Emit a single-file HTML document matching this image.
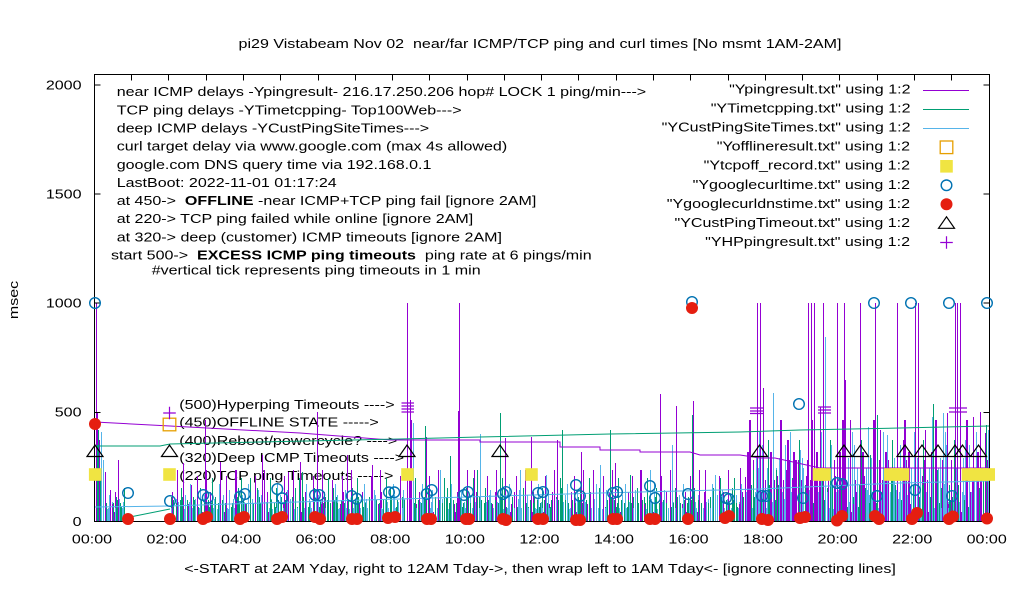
<!DOCTYPE html>
<html><head><meta charset="utf-8"><style>
html,body{margin:0;padding:0;background:#fff;}
svg{display:block;}
.t{font-family:"Liberation Sans",Arial,sans-serif;font-size:13px;fill:#000;white-space:pre;}
.b{font-weight:bold;}
</style></head><body>
<svg width="1020" height="600" viewBox="0 0 1020 600" xmlns="http://www.w3.org/2000/svg">
<defs>
<pattern id="pA" patternUnits="userSpaceOnUse" x="0" y="0" width="11" height="600">
<path d="M0.5 507V521" stroke="#009e73"/><path d="M2.5 502V521" stroke="#56b4e9"/><path d="M4.5 512V521" stroke="#9400d3"/><path d="M6.5 497V521" stroke="#009e73"/><path d="M8.5 509V521" stroke="#56b4e9"/>
</pattern>
<pattern id="pB" patternUnits="userSpaceOnUse" x="0" y="0" width="19" height="600">
<path d="M1.5 492V521" stroke="#9400d3"/><path d="M5.5 499V521" stroke="#56b4e9"/><path d="M10.5 488V521" stroke="#009e73"/><path d="M14.5 495V521" stroke="#56b4e9"/><path d="M17.5 504V521" stroke="#9400d3"/>
</pattern>
<pattern id="pE" patternUnits="userSpaceOnUse" x="0" y="0" width="7" height="600">
<path d="M1.5 503V521" stroke="#009e73"/><path d="M3.5 508V521" stroke="#56b4e9"/><path d="M5.5 500V521" stroke="#009e73"/>
</pattern>
<pattern id="pF" patternUnits="userSpaceOnUse" x="0" y="0" width="29" height="600">
<path d="M3.5 470V521" stroke="#9400d3"/><path d="M9.5 478V521" stroke="#009e73"/><path d="M16.5 484V521" stroke="#56b4e9"/><path d="M23.5 476V521" stroke="#9400d3"/><path d="M26.5 490V521" stroke="#56b4e9"/>
</pattern>
<pattern id="pC" patternUnits="userSpaceOnUse" x="0" y="0" width="9" height="600">
<path d="M0.5 480V521" stroke="#9400d3"/><path d="M2.5 468V521" stroke="#56b4e9"/><path d="M4.5 485V521" stroke="#009e73"/><path d="M6.5 460V521" stroke="#9400d3"/><path d="M8.5 492V521" stroke="#56b4e9"/>
</pattern>
<pattern id="pD" patternUnits="userSpaceOnUse" x="0" y="0" width="23" height="600">
<path d="M3.5 445V521" stroke="#56b4e9"/><path d="M11.5 452V521" stroke="#9400d3"/><path d="M12.5 452V521" stroke="#9400d3"/><path d="M17.5 470V521" stroke="#009e73"/><path d="M20.5 458V521" stroke="#56b4e9"/>
</pattern>
<pattern id="pG" patternUnits="userSpaceOnUse" x="0" y="0" width="31" height="600">
<path d="M5.5 420V521" stroke="#9400d3"/><path d="M6.5 420V521" stroke="#9400d3"/><path d="M15.5 432V521" stroke="#56b4e9"/><path d="M24.5 440V521" stroke="#009e73"/>
</pattern>
</defs>
<rect width="1020" height="600" fill="#fff"/>

<text class="t" text-anchor="middle" transform="matrix(1.235 0 0 1 540 48)">pi29 Vistabeam Nov 02  near/far ICMP/TCP ping and curl times [No msmt 1AM-2AM]</text>
<text class="t" text-anchor="middle" transform="translate(18,300) rotate(-90) scale(1.235,1)">msec</text>
<text class="t" text-anchor="middle" transform="matrix(1.235 0 0 1 540 573)">&lt;-START at 2AM Yday, right to 12AM Tday-&gt;, then wrap left to 1AM Tday&lt;- [ignore connecting lines]</text>

<text class="t" text-anchor="end" transform="matrix(1.235 0 0 1 81.5 89.3)">2000</text>
<text class="t" text-anchor="end" transform="matrix(1.235 0 0 1 81.5 198.3)">1500</text>
<text class="t" text-anchor="end" transform="matrix(1.235 0 0 1 81.5 307.5)">1000</text>
<text class="t" text-anchor="end" transform="matrix(1.235 0 0 1 81.5 416.7)">500</text>
<text class="t" text-anchor="end" transform="matrix(1.235 0 0 1 81.5 525.8)">0</text>

<text class="t" text-anchor="middle" transform="matrix(1.235 0 0 1 92 543.3)">00:00</text>
<text class="t" text-anchor="middle" transform="matrix(1.235 0 0 1 166.6 543.3)">02:00</text>
<text class="t" text-anchor="middle" transform="matrix(1.235 0 0 1 241.1 543.3)">04:00</text>
<text class="t" text-anchor="middle" transform="matrix(1.235 0 0 1 315.7 543.3)">06:00</text>
<text class="t" text-anchor="middle" transform="matrix(1.235 0 0 1 390.2 543.3)">08:00</text>
<text class="t" text-anchor="middle" transform="matrix(1.235 0 0 1 464.8 543.3)">10:00</text>
<text class="t" text-anchor="middle" transform="matrix(1.235 0 0 1 539.4 543.3)">12:00</text>
<text class="t" text-anchor="middle" transform="matrix(1.235 0 0 1 613.9 543.3)">14:00</text>
<text class="t" text-anchor="middle" transform="matrix(1.235 0 0 1 688.5 543.3)">16:00</text>
<text class="t" text-anchor="middle" transform="matrix(1.235 0 0 1 763 543.3)">18:00</text>
<text class="t" text-anchor="middle" transform="matrix(1.235 0 0 1 837.6 543.3)">20:00</text>
<text class="t" text-anchor="middle" transform="matrix(1.235 0 0 1 912.2 543.3)">22:00</text>
<text class="t" text-anchor="middle" transform="matrix(1.235 0 0 1 986.7 543.3)">00:00</text>

<text class="t" transform="matrix(1.235 0 0 1 116.7 96.2)">near ICMP delays -Ypingresult- 216.17.250.206 hop# LOCK 1 ping/min---&gt;</text>
<text class="t" transform="matrix(1.235 0 0 1 116.7 114.3)">TCP ping delays -YTimetcpping- Top100Web---&gt;</text>
<text class="t" transform="matrix(1.235 0 0 1 116.7 132.5)">deep ICMP delays -YCustPingSiteTimes---&gt;</text>
<text class="t" transform="matrix(1.235 0 0 1 116.7 150.6)">curl target delay via www.google.com (max 4s allowed)</text>
<text class="t" transform="matrix(1.235 0 0 1 116.7 168.8)">google.com DNS query time via 192.168.0.1</text>
<text class="t" transform="matrix(1.235 0 0 1 116.7 186.9)">LastBoot: 2022-11-01 01:17:24</text>
<text class="t" transform="matrix(1.235 0 0 1 116.7 205)">at 450-&gt;  <tspan class="b">OFFLINE</tspan> -near ICMP+TCP ping fail [ignore 2AM]</text>
<text class="t" transform="matrix(1.235 0 0 1 116.7 223.2)">at 220-&gt; TCP ping failed while online [ignore 2AM]</text>
<text class="t" transform="matrix(1.235 0 0 1 116.7 241.3)">at 320-&gt; deep (customer) ICMP timeouts [ignore 2AM]</text>
<text class="t" transform="matrix(1.235 0 0 1 111 259.5)">start 500-&gt;  <tspan class="b">EXCESS ICMP ping timeouts</tspan>  ping rate at 6 pings/min</text>
<text class="t" transform="matrix(1.235 0 0 1 151.7 274.5)">#vertical tick represents ping timeouts in 1 min</text>

<text class="t" text-anchor="end" transform="matrix(1.235 0 0 1 910.5 93.5)">"Ypingresult.txt" using 1:2</text>
<text class="t" text-anchor="end" transform="matrix(1.235 0 0 1 910.5 112.6)">"YTimetcpping.txt" using 1:2</text>
<text class="t" text-anchor="end" transform="matrix(1.235 0 0 1 910.5 131.6)">"YCustPingSiteTimes.txt" using 1:2</text>
<text class="t" text-anchor="end" transform="matrix(1.235 0 0 1 910 150.7)">"Yofflineresult.txt" using 1:2</text>
<text class="t" text-anchor="end" transform="matrix(1.235 0 0 1 910 169.7)">"Ytcpoff_record.txt" using 1:2</text>
<text class="t" text-anchor="end" transform="matrix(1.235 0 0 1 910 188.8)">"Ygooglecurltime.txt" using 1:2</text>
<text class="t" text-anchor="end" transform="matrix(1.235 0 0 1 910 207.8)">"Ygooglecurldnstime.txt" using 1:2</text>
<text class="t" text-anchor="end" transform="matrix(1.235 0 0 1 910 226.9)">"YCustPingTimeout.txt" using 1:2</text>
<text class="t" text-anchor="end" transform="matrix(1.235 0 0 1 910 245.9)">"YHPpingresult.txt" using 1:2</text>
<path d="M923 90.5H969" stroke="#9400d3"/>
<path d="M923 109.5H969" stroke="#009e73"/>
<path d="M923 128.5H969" stroke="#56b4e9"/>
<rect x="940.2" y="141" width="12.6" height="12.6" fill="none" stroke="#e69f00" stroke-width="1.3"/>
<rect x="940.2" y="160" width="12.6" height="12.6" fill="#f0e442"/>
<circle cx="946.5" cy="185.3" r="5.3" fill="none" stroke="#0072b2" stroke-width="1.4"/>
<circle cx="946.5" cy="204.3" r="6" fill="#e51e10"/>
<path d="M938.5 228.3L946.5 216.8L954.5 228.3Z" fill="none" stroke="#000" stroke-width="1.2"/>
<path d="M940.2 242.5H952.8M946.5 236.2V248.8" stroke="#9400d3" stroke-width="1.2"/>

<text class="t" transform="matrix(1.235 0 0 1 179.3 409)">(500)Hyperping Timeouts ----&gt;</text>
<text class="t" transform="matrix(1.235 0 0 1 179.3 426.6)">(450)OFFLINE STATE -----&gt;</text>
<text class="t" transform="matrix(1.235 0 0 1 179.3 444.8)">(400)Reboot/powercycle? ----&gt;</text>
<text class="t" transform="matrix(1.235 0 0 1 179.3 462)">(320)Deep ICMP Timeouts ----&gt;</text>
<text class="t" transform="matrix(1.235 0 0 1 179.3 480)">(220)TCP ping Timeouts -----&gt;</text>

<!-- noise band -->
<rect x="95" y="470" width="30" height="51.5" fill="url(#pA)"/>
<rect x="170" y="470" width="819" height="51.5" fill="url(#pA)"/>
<rect x="95" y="470" width="30" height="51.5" fill="url(#pB)"/>
<rect x="170" y="470" width="819" height="51.5" fill="url(#pB)"/>
<rect x="95" y="460" width="30" height="61.5" fill="url(#pE)"/>
<rect x="170" y="460" width="819" height="61.5" fill="url(#pE)"/>
<rect x="172" y="460" width="817" height="61.5" fill="url(#pF)"/>
<rect x="745" y="430" width="244" height="91.5" fill="url(#pC)"/>
<rect x="745" y="430" width="244" height="91.5" fill="url(#pD)"/>
<rect x="745" y="400" width="244" height="121.5" fill="url(#pG)"/>

<path stroke="#9400d3" fill="none" d="M96.5 303V521M97.5 412V521M99.5 440V521M105.5 472V521M110.5 490V521M118.5 460V521M183.5 463V521M191.5 485V521M205.5 420V521M220.5 462V521M236.5 470V521M262.5 455V521M288.5 472V521M300.5 462V521M317.5 412V521M332.5 480V521M347.5 455V521M372.5 465V521M407.5 303V521M410.5 400V521M411.5 420V521M426.5 437V521M458.5 411V521M459.5 303V521M474.5 470V521M505.5 438V521M531.5 437V521M557.5 440V521M581.5 452V521M593.5 470V521M615.5 463V521M640.5 470V521M660.5 394V521M676.5 406V521M693.5 401V521M705.5 470V521M740.5 468V521M745.5 477V521M757.5 303V521M760.5 303V521M763.5 388V521M787.5 440V521M788.5 440V521M795.5 460V521M796.5 460V521M808.5 303V521M811.5 303V521M814.5 303V521M820.5 407V521M823.5 303V521M837.5 303V521M844.5 303V521M845.5 380V521M850.5 420V521M860.5 303V521M875.5 303V521M880.5 430V521M897.5 303V521M903.5 440V521M915.5 303V521M918.5 303V521M925.5 430V521M947.5 413V521M955.5 303V521M957.5 303V521M960.5 303V521M973.5 417V521M980.5 412V521M985.5 433V521"/>
<path stroke="#009e73" fill="none" d="M97.5 445V521M98.5 430V521M100.5 470V521M250.5 478V521M302.5 472V521M425.5 426V521M450.5 456V521M477.5 470V521M500.5 413V521M562.5 430V521M610.5 430V521M630.5 475V521M692.5 415V521M720.5 478V521M830.5 450V521M870.5 455V521M877.5 415V521M933.5 404V521M986.5 425V521"/>
<path stroke="#56b4e9" fill="none" d="M101.5 432V521M103.5 460V521M413.5 423V521M440.5 470V521M480.5 434V521M520.5 470V521M546.5 475V521M600.5 465V521M650.5 470V521M672.5 445V521M715.5 475V521M773.5 393V521M800.5 450V521M825.5 337V521M868.5 427V521M887.5 435V521M905.5 455V521M932.5 417V521M940.5 460V521M943.5 413V521M965.5 440V521M988.5 430V521"/>

<polyline fill="none" stroke="#9400d3" points="95,422 170,426 300,433 390,440 480,440 480,442 560,442 560,447 600,447 600,450 640,450 640,452 690,452 700,455 740,455 760,458 775,458 820,468 989,468"/>
<polyline fill="none" stroke="#009e73" points="95,446 160,446 170,444 400,439 480,437 610,434 740,432 800,430 900,428 989,426"/>
<polyline fill="none" stroke="#009e73" points="130,517 170,509"/>
<polyline fill="none" stroke="#56b4e9" points="95,507 170,506 230,504 400,499 600,493 720,490 760,489 900,483 989,481"/>

<rect x="94.5" y="74.5" width="895" height="447" fill="none" stroke="#000"/>
<path stroke="#000" fill="none" d="M94.5 85H100.5M94.5 194H100.5M94.5 303H100.5M94.5 412.5H100.5M989.5 85H983.5M989.5 194H983.5M989.5 303H983.5M989.5 412.5H983.5M131.5 74.5V80.5M168.5 74.5V80.5M206.5 74.5V80.5M243.5 74.5V80.5M280.5 74.5V80.5M318.5 74.5V80.5M355.5 74.5V80.5M392.5 74.5V80.5M429.5 74.5V80.5M467.5 74.5V80.5M504.5 74.5V80.5M541.5 74.5V80.5M578.5 74.5V80.5M616.5 74.5V80.5M653.5 74.5V80.5M690.5 74.5V80.5M728.5 74.5V80.5M765.5 74.5V80.5M802.5 74.5V80.5M839.5 74.5V80.5M877.5 74.5V80.5M914.5 74.5V80.5M951.5 74.5V80.5"/>

<rect x="163.2" y="418.2" width="12.6" height="12.6" fill="none" stroke="#e69f00" stroke-width="1.3"/>

<g fill="#f0e442">
<rect x="88.9" y="468.2" width="12.6" height="12.6"/>
<rect x="163.2" y="468.2" width="12.6" height="12.6"/>
<rect x="401.2" y="468.2" width="12.6" height="12.6"/>
<rect x="525.2" y="468.2" width="12.6" height="12.6"/>
<rect x="812.7" y="468.2" width="12.6" height="12.6"/>
<rect x="818.2" y="468.2" width="12.6" height="12.6"/>
<rect x="884" y="468.2" width="12.6" height="12.6"/>
<rect x="890.4" y="468.2" width="12.6" height="12.6"/>
<rect x="896.7" y="468.2" width="12.6" height="12.6"/>
<rect x="961.7" y="468.2" width="12.6" height="12.6"/>
<rect x="968.7" y="468.2" width="12.6" height="12.6"/>
<rect x="975.7" y="468.2" width="12.6" height="12.6"/>
<rect x="982.4" y="468.2" width="12.6" height="12.6"/>
</g>

<g fill="none" stroke="#0072b2" stroke-width="1.4">
<circle cx="95" cy="303" r="5.3"/><circle cx="128" cy="493" r="5.3"/><circle cx="170" cy="501" r="5.3"/>
<circle cx="203.3" cy="495" r="5.3"/><circle cx="207.7" cy="497.7" r="5.3"/><circle cx="240" cy="496.7" r="5.3"/><circle cx="245" cy="494" r="5.3"/>
<circle cx="277.3" cy="489" r="5.3"/><circle cx="282.3" cy="498.3" r="5.3"/><circle cx="315" cy="495" r="5.3"/><circle cx="319.3" cy="495" r="5.3"/>
<circle cx="351.7" cy="496" r="5.3"/><circle cx="356.7" cy="498.7" r="5.3"/><circle cx="389" cy="492.3" r="5.3"/><circle cx="394.3" cy="492.3" r="5.3"/>
<circle cx="426.7" cy="494" r="5.3"/><circle cx="431.7" cy="490" r="5.3"/><circle cx="464" cy="495" r="5.3"/><circle cx="468" cy="492" r="5.3"/>
<circle cx="503" cy="494" r="5.3"/><circle cx="506" cy="492" r="5.3"/><circle cx="538" cy="493" r="5.3"/><circle cx="543" cy="492" r="5.3"/>
<circle cx="576" cy="485" r="5.3"/><circle cx="580" cy="496" r="5.3"/><circle cx="613" cy="493" r="5.3"/><circle cx="617" cy="492" r="5.3"/>
<circle cx="650" cy="486" r="5.3"/><circle cx="655" cy="498" r="5.3"/><circle cx="688" cy="494" r="5.3"/><circle cx="692" cy="302" r="5.3"/>
<circle cx="726" cy="498" r="5.3"/><circle cx="729" cy="499" r="5.3"/><circle cx="762" cy="496" r="5.3"/><circle cx="766" cy="496" r="5.3"/>
<circle cx="799" cy="404" r="5.3"/><circle cx="803" cy="498" r="5.3"/><circle cx="837" cy="483" r="5.3"/><circle cx="842" cy="484" r="5.3"/>
<circle cx="874" cy="303" r="5.3"/><circle cx="877" cy="496" r="5.3"/><circle cx="911" cy="303" r="5.3"/><circle cx="915" cy="490" r="5.3"/>
<circle cx="949" cy="303" r="5.3"/><circle cx="952" cy="496" r="5.3"/><circle cx="987" cy="303" r="5.3"/>
</g>

<g fill="#e51e10">
<circle cx="95" cy="424" r="6"/><circle cx="128" cy="519" r="6"/><circle cx="170" cy="519" r="6"/>
<circle cx="203" cy="519" r="6"/><circle cx="207" cy="517" r="6"/><circle cx="240" cy="519" r="6"/><circle cx="244" cy="517" r="6"/>
<circle cx="277" cy="519" r="6"/><circle cx="282" cy="517" r="6"/><circle cx="315" cy="517" r="6"/><circle cx="320" cy="519" r="6"/>
<circle cx="352" cy="519" r="6"/><circle cx="357" cy="519" r="6"/><circle cx="388" cy="518" r="6"/><circle cx="395" cy="517" r="6"/>
<circle cx="427" cy="519" r="6"/><circle cx="431" cy="519" r="6"/><circle cx="466" cy="519" r="6"/><circle cx="469" cy="519" r="6"/>
<circle cx="503" cy="519" r="6"/><circle cx="506" cy="520" r="6"/><circle cx="538" cy="519" r="6"/><circle cx="543" cy="519" r="6"/>
<circle cx="576" cy="520" r="6"/><circle cx="580" cy="520" r="6"/><circle cx="613" cy="519" r="6"/><circle cx="617" cy="519" r="6"/>
<circle cx="650" cy="519" r="6"/><circle cx="655" cy="519" r="6"/><circle cx="688" cy="519" r="6"/><circle cx="692" cy="308" r="6"/>
<circle cx="725" cy="518" r="6"/><circle cx="729" cy="516" r="6"/><circle cx="762" cy="519" r="6"/><circle cx="768" cy="520" r="6"/>
<circle cx="800" cy="518" r="6"/><circle cx="805" cy="517" r="6"/><circle cx="837" cy="520.5" r="6"/><circle cx="842" cy="516" r="6"/>
<circle cx="875" cy="516" r="6"/><circle cx="879" cy="519" r="6"/><circle cx="912" cy="519" r="6"/><circle cx="917" cy="513" r="6"/>
<circle cx="949" cy="519" r="6"/><circle cx="953" cy="516.5" r="6"/><circle cx="987" cy="518.5" r="6"/>
</g>

<path fill="none" stroke="#000" stroke-width="1.2" d="M87 456.5L95 445L103 456.5ZM161.5 456.5L169.5 445L177.5 456.5ZM399 456.5L407 445L415 456.5ZM492 456.5L500 445L508 456.5ZM751.5 456.5L759.5 445L767.5 456.5ZM836 456.5L844 445L852 456.5ZM852.5 456.5L860.5 445L868.5 456.5ZM897 456.5L905 445L913 456.5ZM914 456.5L922 445L930 456.5ZM930 456.5L938 445L946 456.5ZM947 456.5L955 445L963 456.5ZM954.5 456.5L962.5 445L970.5 456.5ZM970.5 456.5L978.5 445L986.5 456.5Z"/>

<path fill="none" stroke="#9400d3" stroke-width="1.2" d="M163.2 413H175.8M169.5 406.7V419.3M401.5 403H414M401.5 406H414M401.5 409H414M401.5 412H414M750 408H763M750 411H763M750 413.5H763M818 407H831M818 410H831M818 413H831M949 408H967M949 412H967"/>
</svg>
</body></html>
